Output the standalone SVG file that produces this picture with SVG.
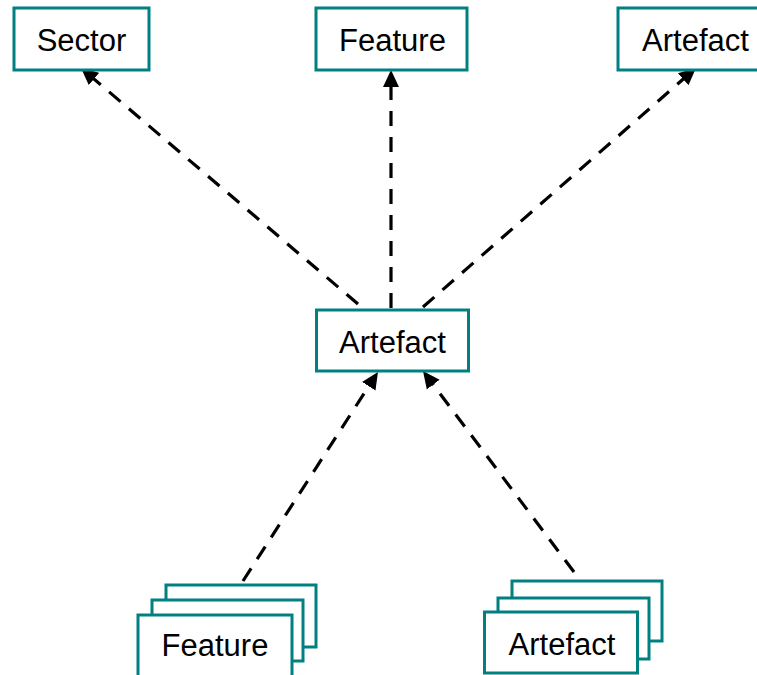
<svg xmlns="http://www.w3.org/2000/svg" width="757" height="675" viewBox="0 0 757 675">
<style>
.box{fill:#fff;stroke:#008080;stroke-width:3}
.lbl{font-family:"Liberation Sans",Arial,sans-serif;font-size:31px;fill:#000;text-anchor:middle}
.conn{fill:none;stroke:#000;stroke-width:3.2;stroke-dasharray:15 11}
</style>
<defs>
<marker id="arr" markerUnits="userSpaceOnUse" markerWidth="18" markerHeight="18" viewBox="0 0 18 18" refX="6" refY="9" orient="auto">
<path d="M0,1 L17,9 L0,17 z" fill="#000"/>
</marker>
</defs>
<rect width="757" height="675" fill="#fff"/>
<g id="connectors">
<line class="conn" x1="358" y1="304" x2="89.4" y2="75.1" marker-end="url(#arr)"/>
<line class="conn" x1="391" y1="308" x2="391" y2="81" marker-end="url(#arr)"/>
<line class="conn" x1="423" y1="307" x2="687.7" y2="75.2" marker-end="url(#arr)"/>
<line class="conn" x1="243" y1="581" x2="372" y2="381.2" marker-end="url(#arr)"/>
<line class="conn" x1="574" y1="572" x2="429.6" y2="379.8" marker-end="url(#arr)"/>
</g>
<g id="sector">
<rect class="box" x="14" y="8" width="135" height="62"/>
<text class="lbl" x="81.5" y="51">Sector</text>
</g>
<g id="feature-top">
<rect class="box" x="316" y="8" width="151" height="62"/>
<text class="lbl" x="392.5" y="50.5">Feature</text>
</g>
<g id="artefact-top">
<rect class="box" x="618" y="8" width="152" height="62"/>
<text class="lbl" x="695.5" y="50.5">Artefact</text>
</g>
<g id="artefact-center">
<rect class="box" x="316.5" y="310" width="152" height="61"/>
<text class="lbl" x="392.5" y="352.5">Artefact</text>
</g>
<g id="feature-stack">
<rect class="box" x="166" y="585" width="150" height="62"/>
<rect class="box" x="152" y="600" width="151" height="61"/>
<rect class="box" x="138" y="615" width="154" height="64"/>
<text class="lbl" x="215" y="656">Feature</text>
</g>
<g id="artefact-stack">
<rect class="box" x="512" y="581" width="150" height="60"/>
<rect class="box" x="498" y="598" width="151" height="61"/>
<rect class="box" x="484.5" y="612" width="153" height="61"/>
<text class="lbl" x="562" y="654.5">Artefact</text>
</g>
</svg>
